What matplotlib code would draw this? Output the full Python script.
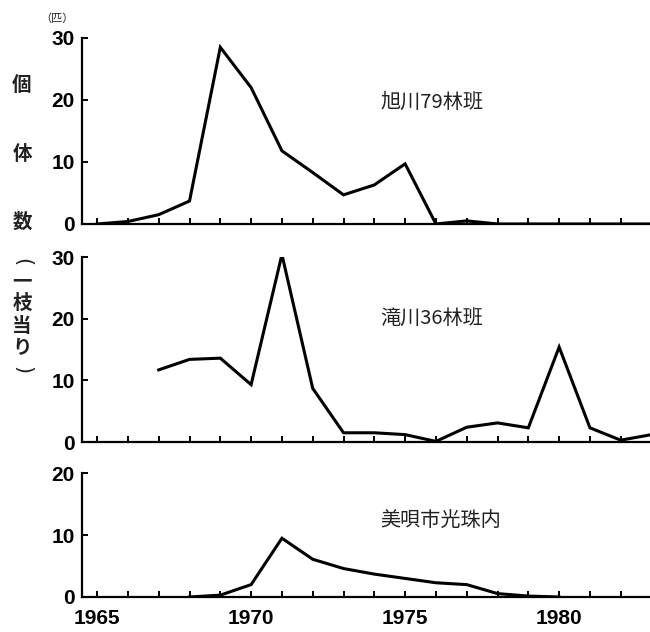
import matplotlib.pyplot as plt

# data (individuals per branch)
years_a = list(range(1965, 1984))
asahikawa = [0, 0.4, 1.5, 3.7, 28.5, 22.0, 11.8, 8.3, 4.7, 6.3, 9.7, 0, 0.5, 0, 0, 0, 0, 0, 0]

years_t = list(range(1967, 1984))
takikawa = [11.7, 13.4, 13.6, 9.3, 30.4, 8.7, 1.5, 1.5, 1.2, 0.1, 2.4, 3.1, 2.3, 15.4, 2.3, 0.3, 1.2]

years_b = list(range(1968, 1981))
bibai = [0, 0.3, 2.0, 9.5, 6.1, 4.6, 3.7, 3.0, 2.3, 2.0, 0.55, 0.15, 0]

labels = ["旭川79林班", "滝川36林班", "美唄市光珠内"]
label_y = [19.7, 19.9, 12.3]
ylims = [30, 30, 20]
year_ticks = [1965, 1970, 1975, 1980]

jp = "Noto Sans CJK JP"
num_font = "Liberation Sans"

fig = plt.figure(figsize=(6.5, 6.32), dpi=100)
positions = [
    [0.1257, 0.6456, 0.8743, 0.2943],
    [0.1257, 0.3006, 0.8743, 0.2927],
    [0.1257, 0.0554, 0.8743, 0.1957],
]
series = [(years_a, asahikawa), (years_t, takikawa), (years_b, bibai)]

for i, (pos, (xs, ys)) in enumerate(zip(positions, series)):
    ax = fig.add_axes(pos)
    ax.plot(xs, ys, color="black", lw=2.2, solid_joinstyle="miter")
    ax.set_xlim(1964.5, 1982.95)
    ax.set_ylim(0, ylims[i])
    ax.set_yticks(range(0, ylims[i] + 1, 10))
    ax.set_xticks(range(1965, 1983))
    for s in ["top", "right"]:
        ax.spines[s].set_visible(False)
    for s in ["left", "bottom"]:
        ax.spines[s].set_linewidth(1.6)
    ax.tick_params(direction="in", length=4, width=1.4, colors="black")
    ax.tick_params(axis="y", pad=5)
    ax.tick_params(axis="x", pad=9)
    for t in ax.get_yticklabels():
        t.set_fontfamily(num_font)
        t.set_fontweight("bold")
        t.set_fontsize(15)
    if i == 2:
        ax.set_xticklabels([str(y) if y in year_ticks else "" for y in range(1965, 1983)])
        for t in ax.get_xticklabels():
            t.set_fontfamily(num_font)
            t.set_fontweight("bold")
            t.set_fontsize(15)
    else:
        ax.set_xticklabels([])
    ax.text(1974.2, label_y[i], labels[i], family=jp, fontsize=14.5,
            color="#222222", ha="left", va="center")

# vertical y-axis caption
caption = ["個", "体", "数", "一", "枝", "当", "り"]
caption_y = [85, 155, 222, 282, 303, 326, 348]
for ch, yp in zip(caption, caption_y):
    fig.text(22 / 650, 1 - yp / 632, ch, family=jp, fontsize=14,
             fontweight="bold", ha="center", va="center", color="#222222")
# parentheses turned for vertical writing
for ch, yp in zip(["(", ")"], [262, 370]):
    fig.text(22 / 650, 1 - yp / 632, ch, family="DejaVu Sans", fontsize=15,
             ha="center", va="center", color="#222222", rotation=-90)

fig.text(57 / 650, 1 - 19 / 632, "（匹）", family=jp, fontsize=8,
         ha="center", va="center", color="#222222")

fig.savefig("out.png", dpi=100)
